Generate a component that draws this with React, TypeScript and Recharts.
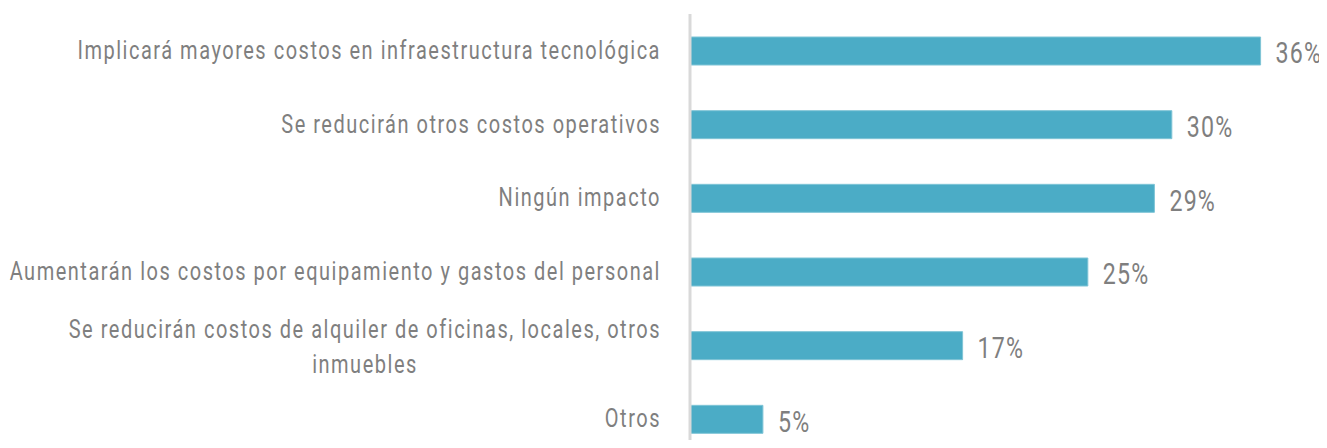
import { Bar, BarChart, LabelList, XAxis, YAxis } from "recharts";

const categories = [
  "Implicará mayores costos en infraestructura tecnológica",
  "Se reducirán otros costos operativos",
  "Ningún impacto",
  "Aumentarán los costos por equipamiento y gastos del personal",
  "Se reducirán costos de alquiler de oficinas, locales, otros inmuebles",
  "Otros",
];

const values = [36.0, 30.4, 29.3, 25.1, 17.2, 4.6];

const data = categories.map((name, i) => ({ name, value: values[i] }));

const TEXT = "#7f7f7f";
const FONT = "Roboto, 'DejaVu Sans Condensed', sans-serif";
// no condensed face installed, so squeeze the text horizontally
const SQUEEZE = 0.8;

const CategoryTick = (props: any) => {
  const { x, y, payload } = props;
  const label: string = payload.value;
  const right = x - 21;
  const style = { fill: TEXT, fontSize: 25, fontFamily: FONT, letterSpacing: 1.9 };
  if (label.length > 62) {
    const cut = label.lastIndexOf(" ", 60);
    const first = label.slice(0, cut);
    const second = label.slice(cut + 1);
    return (
      <g>
        <text transform={`translate(${right},${y - 17}) scale(${SQUEEZE},1)`} dy="0.36em" textAnchor="end" {...style}>
          {first}
        </text>
        <text transform={`translate(${right - 296},${y + 18}) scale(${SQUEEZE},1)`} dy="0.36em" textAnchor="middle" {...style}>
          {second}
        </text>
      </g>
    );
  }
  return (
    <text transform={`translate(${right},${y - 1}) scale(${SQUEEZE},1)`} dy="0.36em" textAnchor="end" {...style}>
      {label}
    </text>
  );
};

const ValueLabel = (props: any) => {
  const { x, y, width, height, value } = props;
  const lx = Number(x) + Number(width) + 15;
  const ly = Number(y) + Number(height) / 2 + 2;
  return (
    <text transform={`translate(${lx},${ly}) scale(${SQUEEZE},1)`} dy="0.36em" textAnchor="start"
      fill={TEXT} fontSize={29} fontFamily={FONT} letterSpacing={1.5}>
      {`${Math.round(Number(value))}%`}
    </text>
  );
};

const App = () => {
  return (
    <div style={{ margin: -8, width: 1327, height: 448, overflow: "hidden", background: "#fff" }}>
      <BarChart
        width={1327}
        height={456}
        data={data}
        layout="vertical"
        margin={{ top: 14, right: 3, bottom: 0, left: 0 }}
      >
        <XAxis type="number" domain={[0, 40]} hide />
        <YAxis
          type="category"
          dataKey="name"
          width={690}
          axisLine={{ stroke: "#d9d9d9", strokeWidth: 3 }}
          tickLine={false}
          tick={<CategoryTick />}
          interval={0}
        />
        <Bar
          dataKey="value"
          fill="#4bacc6"
          stroke="#7fc4d6"
          strokeWidth={1}
          barSize={28}
          isAnimationActive={false}
        >
          <LabelList dataKey="value" content={<ValueLabel />} />
        </Bar>
      </BarChart>
    </div>
  );
};

export default App;
